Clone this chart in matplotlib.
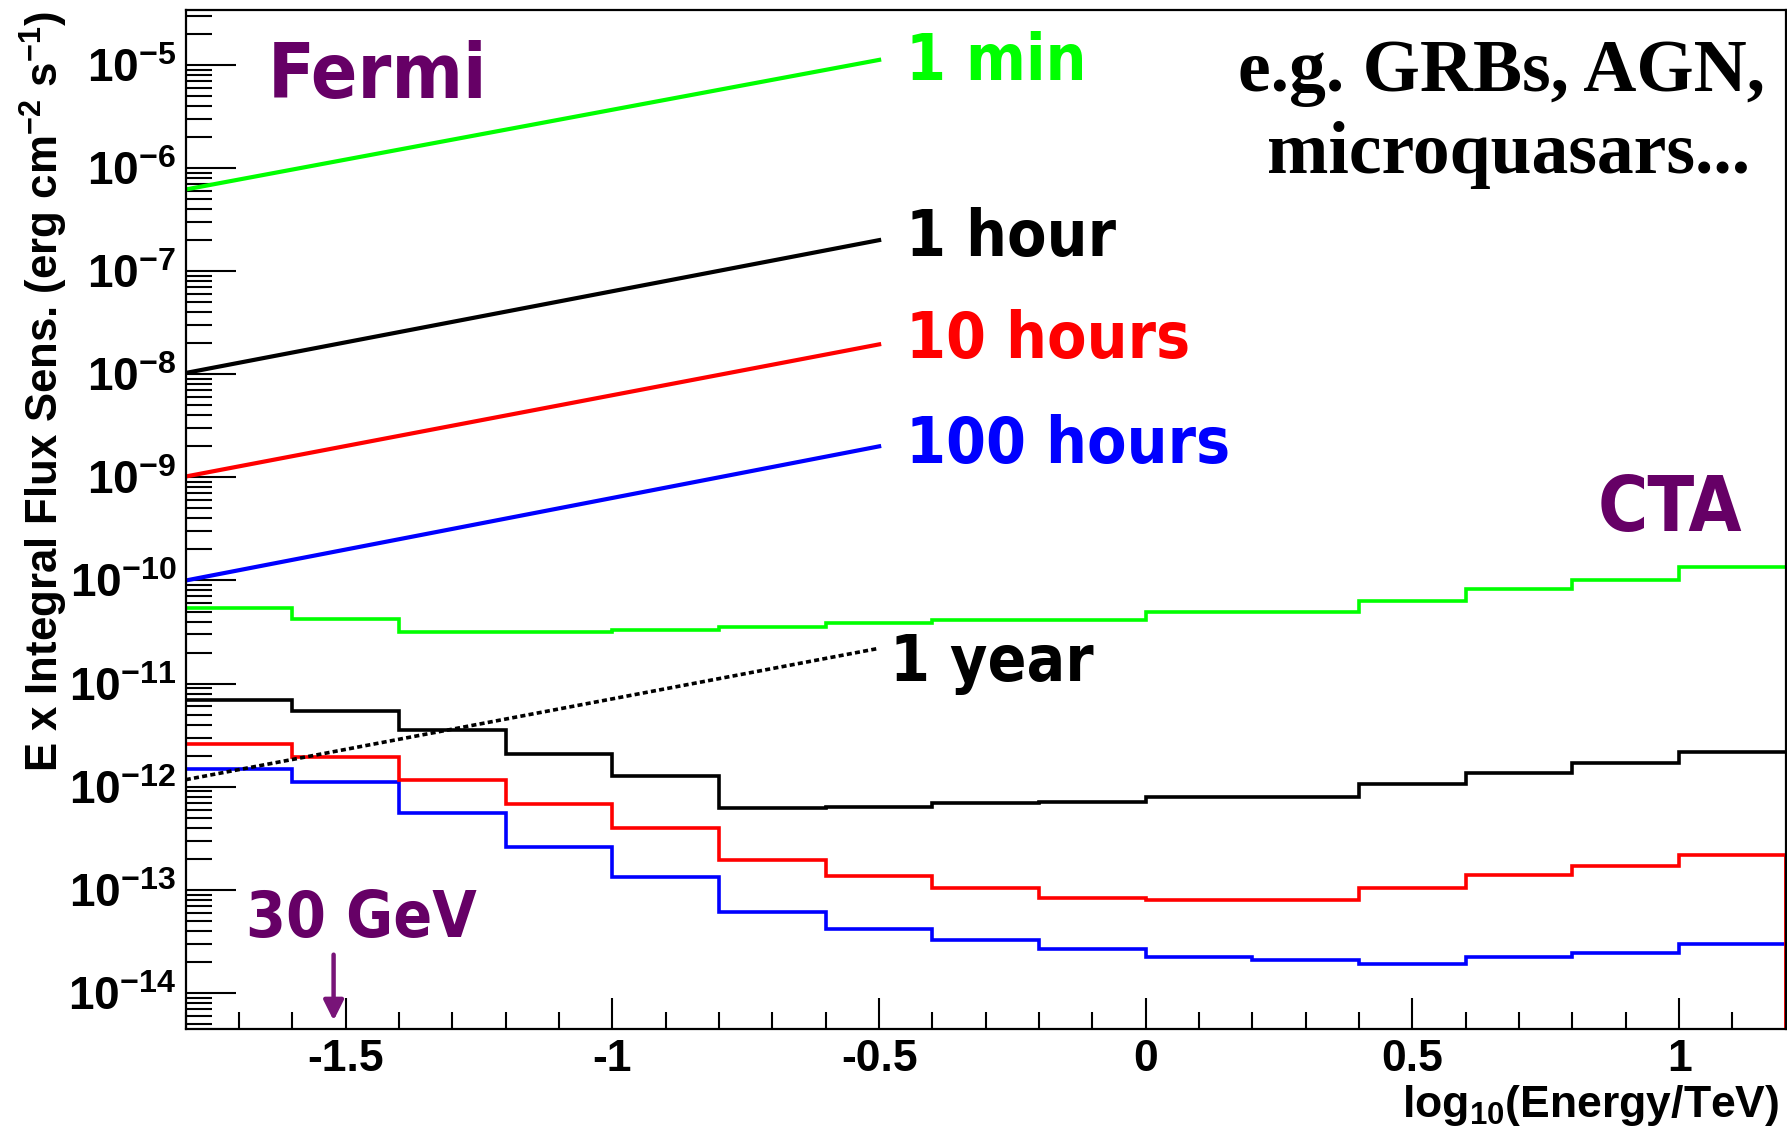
import numpy as np
import matplotlib
matplotlib.use("Agg")
import matplotlib.pyplot as plt
from matplotlib import font_manager as fm
from matplotlib.font_manager import FontProperties
from matplotlib.ticker import LogLocator, MultipleLocator, FuncFormatter, NullFormatter

# ---------------- data ----------------
# CTA differential sensitivity histograms (bins in log10(E/TeV))
cta_edges = [-1.8, -1.6, -1.4, -1.2, -1.0, -0.8, -0.6, -0.4, -0.2, 0.0,
             0.2, 0.4, 0.6, 0.8, 1.0, 1.2]
cta_1min = [5.35e-11, 4.2e-11, 3.17e-11, 3.17e-11, 3.33e-11, 3.53e-11, 3.84e-11,
            4.17e-11, 4.17e-11, 4.91e-11, 4.91e-11, 6.31e-11, 8.2e-11, 1.01e-10, 1.34e-10]
cta_1hour = [6.98e-12, 5.43e-12, 3.52e-12, 2.09e-12, 1.27e-12, 6.15e-13, 6.37e-13,
             6.9e-13, 7.15e-13, 7.97e-13, 7.97e-13, 1.06e-12, 1.35e-12, 1.71e-12, 2.19e-12]
cta_10hours = [2.59e-12, 1.95e-12, 1.15e-12, 6.85e-13, 3.99e-13, 1.95e-13, 1.35e-13,
               1.03e-13, 8.35e-14, 7.97e-14, 7.97e-14, 1.05e-13, 1.40e-13, 1.71e-13, 2.18e-13]
cta_100hours = [1.47e-12, 1.11e-12, 5.57e-13, 2.63e-13, 1.34e-13, 6.15e-14, 4.2e-14,
                3.23e-14, 2.65e-14, 2.23e-14, 2.07e-14, 1.91e-14, 2.23e-14, 2.42e-14, 2.98e-14]

# Fermi sensitivity lines (log10(E/TeV) end points)
fermi_x = [-1.8, -0.5]
fermi_1min = [6.2e-7, 1.12e-5]
fermi_1hour = [1.03e-8, 2.0e-7]
fermi_10hours = [1.02e-9, 1.95e-8]
fermi_100hours = [1.0e-10, 2.0e-9]
fermi_1year = [1.17e-12, 2.2e-11]

# 30 GeV marker
arrow_energy_tev = 0.03
arrow_flux_top = 2.35e-14
arrow_flux_tip = 5.4e-15

x_range = [-1.8, 1.2]
y_range = [10 ** -14.35, 10 ** -4.467]

GREEN, BLACK, RED, BLUE = "#00ff00", "#000000", "#ff0000", "#0000ff"
PURPLE = "#660066"

# ---------------- fonts ----------------
plt.rcParams.update({
    "font.family": ["Liberation Sans", "DejaVu Sans"],
    "font.weight": "bold",
    "mathtext.fontset": "custom",
    "mathtext.rm": "Liberation Sans:bold",
    "mathtext.bf": "Liberation Sans:bold",
    "mathtext.it": "Liberation Sans:bold",
    "mathtext.sf": "Liberation Sans:bold",
    "mathtext.default": "bf",
    "axes.unicode_minus": False,
})

cond_path = None
for f in fm.fontManager.ttflist:
    w = f.weight if isinstance(f.weight, int) else (700 if "bold" in str(f.weight) else 400)
    if (f.name.startswith("DejaVu Sans") and "Mono" not in f.name
            and "condensed" in str(f.stretch) and w >= 600 and f.style == "normal"):
        cond_path = f.fname
        break


def lab_font(size):
    if cond_path:
        return FontProperties(fname=cond_path, size=size)
    return FontProperties(family="DejaVu Sans", weight="bold", size=size * 0.92)


# ---------------- figure ----------------
W, H = 1787, 1134
fig = plt.figure(figsize=(W / 100, H / 100), dpi=100)
ax = fig.add_axes([185.8 / W, 105 / H, 1600 / W, 1019 / H])
ax.set_yscale("log")
ax.set_xlim(*x_range)
ax.set_ylim(*y_range)

# CTA histograms
ax.stairs(cta_1min, cta_edges, baseline=None, color=GREEN, lw=2.6)
ax.stairs(cta_1hour, cta_edges, baseline=None, color=BLACK, lw=2.6)
ax.stairs(cta_100hours, cta_edges, baseline=None, color=BLUE, lw=2.6)
ax.stairs(cta_10hours, cta_edges, baseline=None, color=RED, lw=2.6)
ax.vlines(cta_edges[-1], y_range[0], cta_10hours[-1], color=RED, lw=2.8)

# Fermi lines
ax.plot(fermi_x, fermi_1min, color=GREEN, lw=3.0)
ax.plot(fermi_x, fermi_1hour, color=BLACK, lw=3.0)
ax.plot(fermi_x, fermi_10hours, color=RED, lw=3.0)
ax.plot(fermi_x, fermi_100hours, color=BLUE, lw=3.0)
ax.plot(fermi_x, fermi_1year, color=BLACK, lw=2.6, linestyle=(0, (1.4, 0.9)))

# 30 GeV arrow
xa = np.log10(arrow_energy_tev)
ax.annotate("", xy=(xa, arrow_flux_tip), xytext=(xa, arrow_flux_top),
            arrowprops=dict(arrowstyle="-|>,head_length=0.6,head_width=0.3",
                            color="#781478", lw=3.2, mutation_scale=20,
                            shrinkA=0, shrinkB=0))

# ---------------- axes styling ----------------
ax.xaxis.set_major_locator(MultipleLocator(0.5))
ax.xaxis.set_minor_locator(MultipleLocator(0.1))
ax.xaxis.set_major_formatter(FuncFormatter(lambda v, p: f"{v:g}"))
ax.yaxis.set_major_locator(LogLocator(base=10, numticks=30))
ax.yaxis.set_minor_locator(LogLocator(base=10, subs=np.arange(2, 10), numticks=30))
ax.yaxis.set_minor_formatter(NullFormatter())
ax.yaxis.set_major_formatter(
    FuncFormatter(lambda v, p: r"$\mathbf{10^{%d}}$" % int(round(np.log10(v)))))

ax.tick_params(which="both", direction="in", top=False, right=False,
               width=1.5, color="black")
ax.tick_params(axis="y", which="major", length=36, pad=7, labelsize=33)
ax.tick_params(axis="y", which="minor", length=18.5)
ax.tick_params(axis="x", which="major", length=22, pad=7, labelsize=32)
ax.tick_params(axis="x", which="minor", length=12)
for lab in ax.get_xticklabels() + ax.get_yticklabels():
    lab.set_fontweight("bold")
for sp in ax.spines.values():
    sp.set_linewidth(1.6)
    sp.set_zorder(5)

# axis titles
fig.text(59 / W, 1 - 11.5 / H, "E x Integral Flux Sens. (erg cm$^{-2}$ s$^{-1}$)",
         rotation=90, rotation_mode="anchor", ha="right", va="baseline",
         fontsize=31.5, fontweight="bold")
fig.text(1779 / W, 1 - 1117 / H, "log$_{10}$(Energy/TeV)", ha="right",
         va="baseline", fontsize=32, fontweight="bold")

# ---------------- annotations ----------------
T = ax.transAxes
ax.text(0.0514, 0.9133, "Fermi", transform=T, color=PURPLE, fontproperties=lab_font(55))
ax.text(0.8826, 0.4887, "CTA", transform=T, color=PURPLE, fontproperties=lab_font(55))
ax.text(0.0376, 0.090, "30 GeV", transform=T, color=PURPLE, fontproperties=lab_font(46))
ax.text(0.4501, 0.9313, "1 min", transform=T, color=GREEN, fontproperties=lab_font(46))
ax.text(0.4501, 0.7590, "1 hour", transform=T, color=BLACK, fontproperties=lab_font(46))
ax.text(0.4501, 0.6583, "10 hours", transform=T, color=RED, fontproperties=lab_font(46))
ax.text(0.4501, 0.5557, "100 hours", transform=T, color=BLUE, fontproperties=lab_font(46))
ax.text(0.4401, 0.3417, "1 year", transform=T, color=BLACK, fontproperties=lab_font(46))

serif = FontProperties(family=["Liberation Serif", "DejaVu Serif"], weight="bold", size=53)
ax.text(0.987, 0.9203, "e.g. GRBs, AGN,", transform=T, ha="right", fontproperties=serif)
ax.text(0.9774, 0.8405, "microquasars...", transform=T, ha="right", fontproperties=serif)

fig.savefig("out.png", dpi=100)
